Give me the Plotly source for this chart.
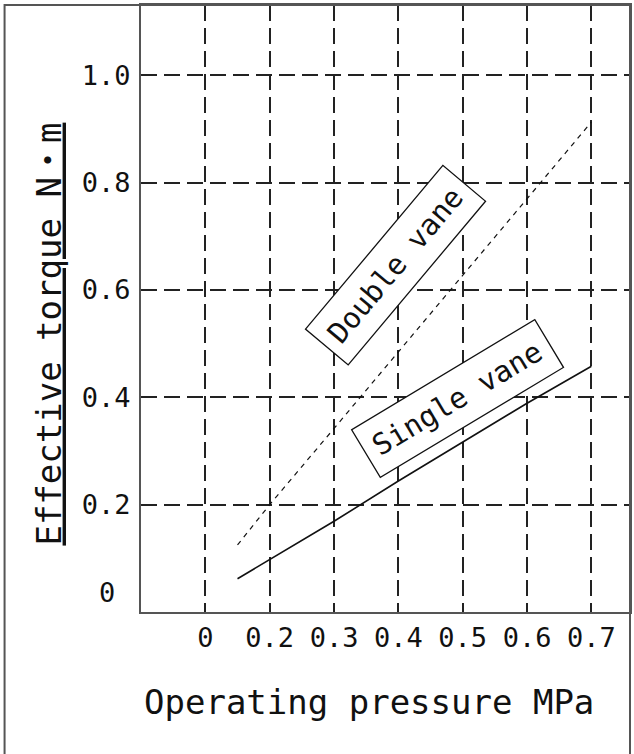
import plotly.graph_objects as go

# ---- data ----
pressure = [0.15, 0.2, 0.3, 0.4, 0.5, 0.6, 0.7]
single_vane = [0.062, 0.098, 0.169, 0.244, 0.317, 0.389, 0.458]
double_vane = [0.125, 0.200, 0.342, 0.484, 0.627, 0.770, 0.913]

x_tickvals = [0.1, 0.2, 0.3, 0.4, 0.5, 0.6, 0.7]
x_ticktext = ["0", "0.2", "0.3", "0.4", "0.5", "0.6", "0.7"]
y_tickvals = [0.2, 0.4, 0.6, 0.8, 1.0]
y_ticktext = ["0.2", "0.4", "0.6", "0.8", "1.0"]

FONT = "DejaVu Sans Mono, Noto Sans CJK JP, monospace"
INK = "#111111"

fig = go.Figure()
fig.add_trace(go.Scatter(x=pressure, y=double_vane, mode="lines",
                         line=dict(color=INK, width=1.2, dash="5px,5px"),
                         name="Double vane", showlegend=False))
fig.add_trace(go.Scatter(x=pressure, y=single_vane, mode="lines",
                         line=dict(color=INK, width=1.6),
                         name="Single vane", showlegend=False))

grid = dict(showgrid=True, gridcolor="#222222", gridwidth=1.5, griddash="16px,7px")

fig.update_xaxes(range=[0, 0.76], tickvals=x_tickvals, ticktext=x_ticktext,
                 showline=True, linecolor="#555555", linewidth=2, mirror=True,
                 zeroline=False, ticks="", ticklabelstandoff=1,
                 tickfont=dict(family=FONT, size=27, color=INK), **grid)
fig.update_yaxes(range=[0, 1.131], tickvals=y_tickvals, ticktext=y_ticktext,
                 showline=True, linecolor="#555555", linewidth=2, mirror=True,
                 zeroline=False, ticks="", ticklabelstandoff=3,
                 tickfont=dict(family=FONT, size=27, color=INK), **grid)

annos = [
    dict(text="0", x=-0.069, xref="paper", y=0.037, yref="y", showarrow=False,
         xanchor="center", yanchor="middle",
         font=dict(family=FONT, size=27, color=INK)),
    dict(text="Operating pressure MPa", x=0.466, xref="paper", y=-0.148, yref="paper",
         xanchor="center", yanchor="middle",
         showarrow=False, font=dict(family=FONT, size=34, color=INK)),
    dict(text="<u>Effective torque N・m</u>", x=-0.189, xref="paper", y=0.458, yref="paper",
         xanchor="center", yanchor="middle",
         showarrow=False, textangle=-90, font=dict(family=FONT, size=34, color=INK)),
    dict(text="Double vane", x=0.395, y=0.646, xref="x", yref="y", showarrow=False,
         xanchor="center", yanchor="middle",
         textangle=-50, width=208, height=50, borderpad=2, bordercolor=INK, borderwidth=1.3,
         bgcolor="white", font=dict(family=FONT, size=29, color=INK)),
    dict(text="Single vane", x=0.492, y=0.398, xref="x", yref="y", showarrow=False,
         xanchor="center", yanchor="middle",
         textangle=-31, width=208, height=50, borderpad=2, bordercolor=INK, borderwidth=1.3,
         bgcolor="white", font=dict(family=FONT, size=29, color=INK)),
]

fig.update_layout(
    width=634, height=754,
    margin=dict(l=141, r=2, t=5, b=142),
    paper_bgcolor="white", plot_bgcolor="white",
    annotations=annos,
    shapes=[dict(type="rect", xref="paper", yref="paper",
                 x0=-0.279, x1=1.0, y0=-0.4, y1=1.0,
                 line=dict(color="#555555", width=2))],
)

fig.write_html("out.html")
